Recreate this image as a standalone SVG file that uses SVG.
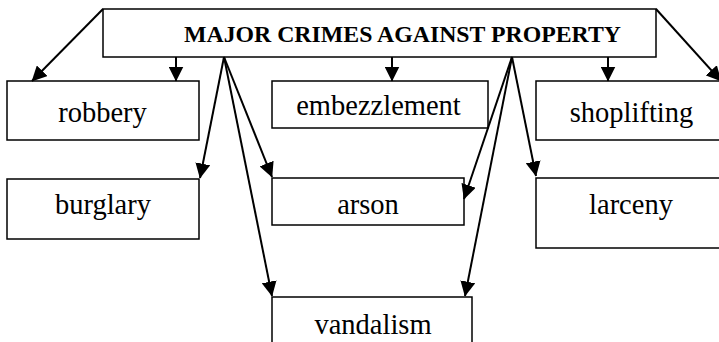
<svg xmlns="http://www.w3.org/2000/svg" width="719" height="342" viewBox="0 0 719 342">
  <style>
    .box { fill: #ffffff; stroke: #000000; stroke-width: 1.5; }
    .title { font-family: "Liberation Serif", "Times New Roman", serif; font-weight: bold; font-size: 23.8px; fill: #000000; }
    .label { font-family: "Liberation Serif", "Times New Roman", serif; font-size: 28.5px; fill: #000000; text-anchor: middle; }
    .edge { fill: none; stroke: #000000; stroke-width: 2; marker-end: url(#arrow); }
  </style>
  <defs>
    <marker id="arrow" markerUnits="userSpaceOnUse" markerWidth="15" markerHeight="15" viewBox="0 0 14 14" refX="13.5" refY="7" orient="auto">
      <path d="M0,0 L14,7 L0,14 Z" fill="#000000"/>
    </marker>
  </defs>
  <rect width="719" height="342" fill="#ffffff"/>

  <g id="node-main">
    <rect class="box" x="103" y="9" width="553" height="48"/>
    <text class="title" x="402.5" y="42" text-anchor="middle">MAJOR CRIMES AGAINST PROPERTY</text>
  </g>
  <g id="node-robbery">
    <rect class="box" x="7" y="81" width="192" height="59"/>
    <text class="label" x="102.5" y="122">robbery</text>
  </g>
  <g id="node-embezzlement">
    <rect class="box" x="272" y="81" width="216" height="47"/>
    <text class="label" x="378.5" y="115">embezzlement</text>
  </g>
  <g id="node-shoplifting">
    <rect class="box" x="536" y="81" width="200" height="59"/>
    <text class="label" x="631.5" y="122">shoplifting</text>
  </g>
  <g id="node-burglary">
    <rect class="box" x="7" y="179" width="192" height="60"/>
    <text class="label" x="103" y="214">burglary</text>
  </g>
  <g id="node-arson">
    <rect class="box" x="272" y="178" width="192" height="47"/>
    <text class="label" x="368" y="214">arson</text>
  </g>
  <g id="node-larceny">
    <rect class="box" x="536" y="178" width="200" height="70"/>
    <text class="label" x="631" y="214">larceny</text>
  </g>
  <g id="node-vandalism">
    <rect class="box" x="272" y="297" width="200" height="60"/>
    <text class="label" x="373" y="334">vandalism</text>
  </g>

  <g id="connectors">
    <!-- corner arrows -->
    <line class="edge" x1="103" y1="9" x2="32" y2="81"/>
    <line class="edge" x1="656" y1="9" x2="721" y2="81"/>
    <!-- straight drops to the first row -->
    <line class="edge" x1="176" y1="57" x2="176" y2="81"/>
    <line class="edge" x1="392" y1="57" x2="392" y2="81"/>
    <line class="edge" x1="608" y1="57" x2="608" y2="81"/>
    <!-- left fan -->
    <line class="edge" x1="224" y1="57" x2="200" y2="178"/>
    <line class="edge" x1="224" y1="57" x2="272" y2="177"/>
    <line class="edge" x1="224" y1="57" x2="272" y2="296"/>
    <!-- right fan -->
    <line class="edge" x1="512" y1="57" x2="464" y2="199"/>
    <line class="edge" x1="512" y1="57" x2="536" y2="176"/>
    <line class="edge" x1="512" y1="57" x2="465" y2="296"/>
  </g>
</svg>
